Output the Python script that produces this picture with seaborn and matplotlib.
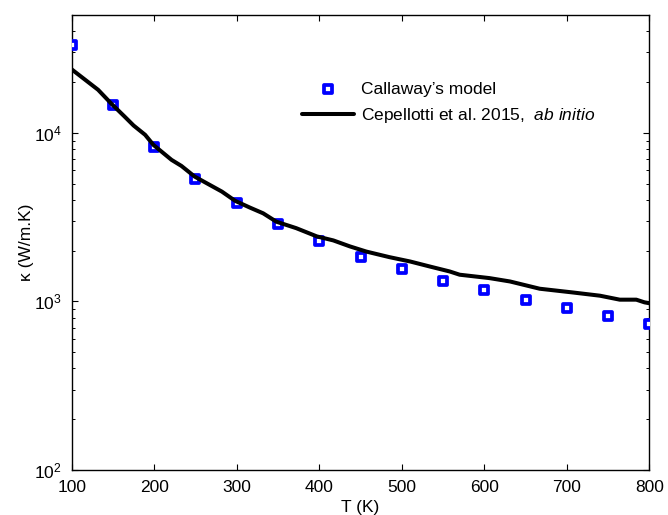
import matplotlib
matplotlib.use("Agg")
import matplotlib.pyplot as plt
import seaborn as sns
import numpy as np
import pandas as pd

# Callaway's model (squares)
T_callaway = [100, 150, 200, 250, 300, 350, 400, 450, 500, 550, 600, 650, 700, 750, 800]
k_callaway = [33400, 14600, 8260, 5320, 3840, 2870, 2270, 1845, 1560, 1330, 1162, 1024, 909, 816, 738]

# Cepellotti et al. 2015, ab initio (line)
T_abinitio = [100, 132, 148, 164, 175, 189, 199, 221, 233, 249, 282, 298, 316, 332, 348,
              372, 397, 417, 437, 457, 485, 510, 534, 558, 570, 606, 631, 667, 707, 740,
              764, 784, 794, 800]
k_abinitio = [23800, 18000, 14900, 12500, 11050, 9730, 8480, 6910, 6360, 5500, 4480, 3950,
              3600, 3330, 2970, 2720, 2430, 2300, 2120, 1975, 1830, 1725, 1610, 1505, 1440,
              1375, 1313, 1189, 1130, 1081, 1024, 1024, 987, 975]

xticks = [100, 200, 300, 400, 500, 600, 700, 800]
ylim = (1e2, 5e4)

sns.set_theme(style="ticks")
plt.rcParams['font.family'] = ['Liberation Sans', 'DejaVu Sans']
plt.rcParams['mathtext.fontset'] = 'custom'
plt.rcParams['mathtext.rm'] = 'Liberation Sans'
plt.rcParams['mathtext.it'] = 'Liberation Sans:italic'
plt.rcParams['mathtext.bf'] = 'Liberation Sans:bold'
plt.rcParams['text.color'] = 'black'
plt.rcParams['axes.labelcolor'] = 'black'
plt.rcParams['xtick.color'] = 'black'
plt.rcParams['ytick.color'] = 'black'

FS = 12.5

fig = plt.figure(figsize=(6.68, 5.15), dpi=100)
ax = fig.add_axes([0.1073, 0.0874, 0.8650, 0.8835])

df_c = pd.DataFrame({"T": T_callaway, "k": k_callaway})
df_a = pd.DataFrame({"T": T_abinitio, "k": k_abinitio})

sns.scatterplot(data=df_c, x="T", y="k", marker="s", s=40, facecolor="white",
                edgecolor="#0000ff", linewidth=2.7, ax=ax, zorder=3,
                label="Callaway\u2019s model")
sns.lineplot(data=df_a, x="T", y="k", color="black", linewidth=2.9, ax=ax, zorder=4,
             label=r"Cepellotti et al. 2015,  $\it{ab\ initio}$")

ax.set_yscale("log")
ax.set_xlim(100, 800)
ax.set_ylim(*ylim)
ax.set_xticks(xticks)
ax.set_xticklabels([str(v) for v in xticks])

for side in ["top", "right", "left", "bottom"]:
    ax.spines[side].set_visible(True)
    ax.spines[side].set_linewidth(1.0)
    ax.spines[side].set_color("black")

ax.tick_params(which="both", direction="in", top=True, right=True, colors="black",
               labelcolor="black", labelsize=FS)
ax.tick_params(which="major", length=4.5, width=0.8)
ax.tick_params(which="minor", length=2.3, width=0.7)
ax.tick_params(axis="x", which="major", pad=7)
ax.tick_params(axis="y", which="major", pad=7)

ax.set_xlabel("T (K)", fontsize=FS, labelpad=4, color="black")
ax.set_ylabel("\u03ba (W/m.K)", fontsize=FS, labelpad=0, color="black")

handles, labels = ax.get_legend_handles_labels()
leg = ax.legend(handles, labels, loc="upper left", bbox_to_anchor=(0.398, 0.853),
                frameon=False, fontsize=FS, handlelength=3.0, handletextpad=0.4,
                labelspacing=0.54, borderaxespad=0, borderpad=0)
for t in leg.get_texts():
    t.set_color("black")

fig.savefig("out.png", dpi=100)
